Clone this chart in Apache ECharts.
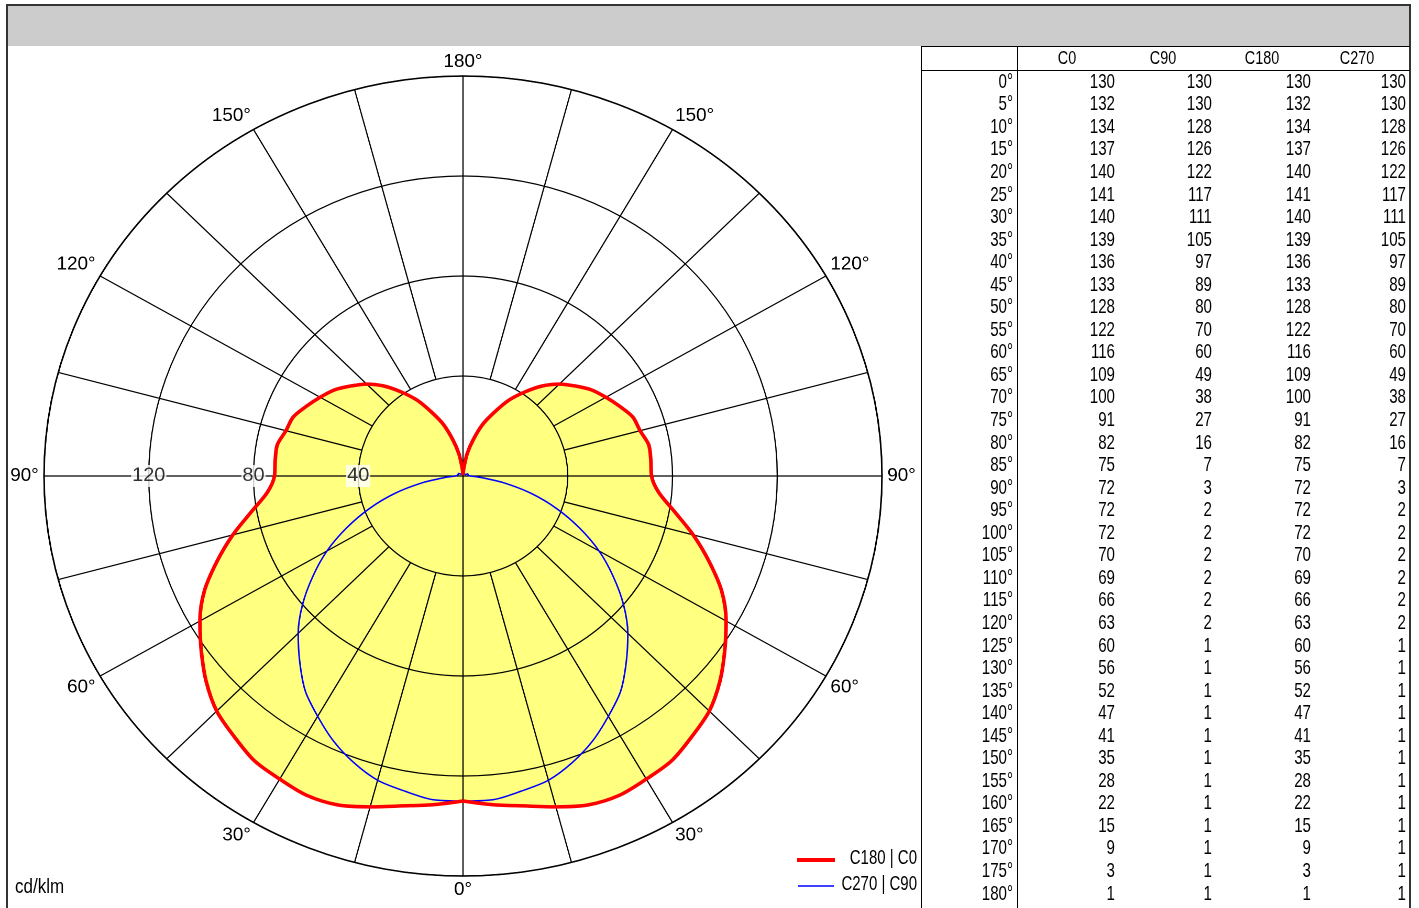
<!DOCTYPE html>
<html>
<head>
<meta charset="utf-8">
<script src="https://cdn.jsdelivr.net/npm/echarts@6/dist/echarts.min.js"></script>
<style>
    html, body { margin: 0; padding: 0; background: #fff; }
    #base { position: absolute; left: 0; top: 0; width: 1419px; height: 908px; }
    #polar { position: absolute; left: 0; top: 0; width: 920px; height: 908px;
             transform: scaleX(1.0475); transform-origin: 463px 476px; }
</style>
</head>
<body>
<div id="base"></div>
<div id="polar"></div>
<script>
var gammas = [0, 5, 10, 15, 20, 25, 30, 35, 40, 45, 50, 55, 60, 65, 70, 75, 80, 85, 90,
    95, 100, 105, 110, 115, 120, 125, 130, 135, 140, 145, 150, 155, 160, 165, 170, 175, 180];
var c0 = [130, 132, 134, 137, 140, 141, 140, 139, 136, 133, 128, 122, 116, 109, 100, 91, 82, 75, 72,
    72, 72, 70, 69, 66, 63, 60, 56, 52, 47, 41, 35, 28, 22, 15, 9, 3, 1];
var c90 = [130, 130, 128, 126, 122, 117, 111, 105, 97, 89, 80, 70, 60, 49, 38, 27, 16, 7, 3,
    2, 2, 2, 2, 2, 2, 1, 1, 1, 1, 1, 1, 1, 1, 1, 1, 1, 1];
var c180 = [130, 132, 134, 137, 140, 141, 140, 139, 136, 133, 128, 122, 116, 109, 100, 91, 82, 75, 72,
    72, 72, 70, 69, 66, 63, 60, 56, 52, 47, 41, 35, 28, 22, 15, 9, 3, 1];
var c270 = [130, 130, 128, 126, 122, 117, 111, 105, 97, 89, 80, 70, 60, 49, 38, 27, 16, 7, 3,
    2, 2, 2, 2, 2, 2, 1, 1, 1, 1, 1, 1, 1, 1, 1, 1, 1, 1];
var columnNames = ['C0', 'C90', 'C180', 'C270'];
var radiusTicks = [40, 80, 120];
var spokeAngles = [0, 15, 30, 45, 60, 75, 90, 105, 120, 135, 150, 165, 180,
    195, 210, 225, 240, 255, 270, 285, 300, 315, 330, 345];
var legendNames = ['C180 | C0', 'C270 | C90'];

var FONT = "'Liberation Sans', Arial, sans-serif";

// right half uses the first column, left half the mirrored one
function curve(right, left) {
    var pts = [];
    for (var i = 0; i < gammas.length; i++) pts.push([right[i], gammas[i]]);
    for (var j = gammas.length - 2; j >= 0; j--) pts.push([left[j], 360 - gammas[j]]);
    return pts;
}

var redData = curve(c0, c180);
var blueData = curve(c90, c270);

// polar diagram (stretched a little in x by css, like the original)
var polarChart = echarts.init(document.getElementById('polar'), null, { renderer: 'canvas', devicePixelRatio: 2 });

polarChart.setOption({
    animation: false,
    backgroundColor: 'transparent',
    polar: { center: [463, 476], radius: 400 },
    angleAxis: {
        type: 'value', min: 0, max: 360, interval: 30,
        startAngle: 270, clockwise: false, z: 2,
        axisLine: { lineStyle: { color: '#000', width: 1.5 } },
        axisTick: { show: false },
        splitLine: { show: false },
        axisLabel: {
            color: '#000', fontSize: 18, fontFamily: FONT, margin: 5,
            formatter: function (v) { return (v <= 180 ? v : 360 - v) + '°'; }
        }
    },
    radiusAxis: {
        type: 'value', min: 0, max: 160, interval: 40, z: 2,
        axisLine: { show: false }, axisTick: { show: false }, axisLabel: { show: false },
        splitLine: { lineStyle: { color: '#000', width: 1.2 } }
    },
    series: [
        {
            type: 'line', coordinateSystem: 'polar', data: redData, z: 1,
            symbol: 'none', smooth: 0.3, silent: true,
            lineStyle: { width: 0, opacity: 0 },
            areaStyle: { color: '#FFFF80', opacity: 1 }
        },
        {
            type: 'custom', coordinateSystem: 'polar', z: 3, silent: true,
            data: spokeAngles.map(function (a) { return [a % 90 === 0 ? 0 : 40, a]; }),
            renderItem: function (params, api) {
                var p0 = api.coord([api.value(0), api.value(1)]);
                var p1 = api.coord([160, api.value(1)]);
                return {
                    type: 'line',
                    shape: { x1: p0[0], y1: p0[1], x2: p1[0], y2: p1[1] },
                    style: { stroke: '#000', lineWidth: 1.2 }
                };
            }
        },
        {
            name: legendNames[1], type: 'line', coordinateSystem: 'polar', data: blueData, z: 4,
            symbol: 'none', smooth: 0.3, lineStyle: { color: '#0000FF', width: 1.5 }
        },
        {
            name: legendNames[0], type: 'line', coordinateSystem: 'polar', data: redData, z: 5,
            symbol: 'none', smooth: 0.3, lineStyle: { color: '#FF0000', width: 3.5 }
        },
        {
            type: 'scatter', coordinateSystem: 'polar', z: 6, symbolSize: 0, silent: true,
            data: radiusTicks.map(function (r) { return [r, 270]; }),
            label: {
                show: true, position: 'inside', color: '#000', fontSize: 19, fontFamily: FONT,
                backgroundColor: '#fff', padding: [2, 1, 1, 1],
                formatter: function (p) { return p.value[0]; }
            }
        }
    ]
});

// frame, table and legend
var baseChart = echarts.init(document.getElementById('base'), null, { renderer: 'canvas' });
var g = [];

g.push({ type: 'rect', shape: { x: 7, y: 5, width: 1403, height: 41 }, style: { fill: '#CCCCCC' } });
g.push({ type: 'rect', shape: { x: 7, y: 5, width: 1403, height: 920 }, style: { fill: null, stroke: '#333', lineWidth: 2 } });

function hline(x1, x2, y, w) {
    g.push({ type: 'line', shape: { x1: x1, y1: y, x2: x2, y2: y }, style: { stroke: '#000', lineWidth: w || 1 } });
}
function vline(x, y1, y2, w) {
    g.push({ type: 'line', shape: { x1: x, y1: y1, x2: x, y2: y2 }, style: { stroke: '#000', lineWidth: w || 1 } });
}
// narrow text: arial squeezed in x
function txt(s, x, y, align, size, sx) {
    g.push({
        type: 'text', x: x, y: y, scaleX: sx || 0.72,
        style: { text: s, fill: '#000', fontSize: size || 21, fontFamily: FONT, align: align, verticalAlign: 'middle' }
    });
}

hline(921, 1410, 46.5);
hline(921, 1410, 70.5);
vline(921.5, 46, 908);
vline(1017.5, 46, 908);

var headX = [1067, 1163, 1262, 1357];
for (var h = 0; h < columnNames.length; h++) txt(columnNames[h], headX[h], 59, 'center', 18, 0.8);

var cols = [c0, c90, c180, c270];
var colX = [1115, 1212, 1311, 1406];
for (var i = 0; i < gammas.length; i++) {
    var y = 82 + i * 22.55;
    txt(gammas[i] + '°', 1013, y, 'right');
    for (var k = 0; k < cols.length; k++) txt(String(cols[k][i]), colX[k], y, 'right');
}

// legend
g.push({ type: 'line', shape: { x1: 797, y1: 860, x2: 835, y2: 860 }, style: { stroke: '#FF0000', lineWidth: 4 } });
g.push({ type: 'line', shape: { x1: 798, y1: 886, x2: 834, y2: 886 }, style: { stroke: '#0000FF', lineWidth: 1.5 } });
txt(legendNames[0], 917, 858, 'right', 20, 0.75);
txt(legendNames[1], 917, 884, 'right', 20, 0.75);

txt('cd/klm', 15, 887, 'left', 20, 0.85);

baseChart.setOption({ animation: false, backgroundColor: '#fff', graphic: g });
</script>
</body>
</html>
